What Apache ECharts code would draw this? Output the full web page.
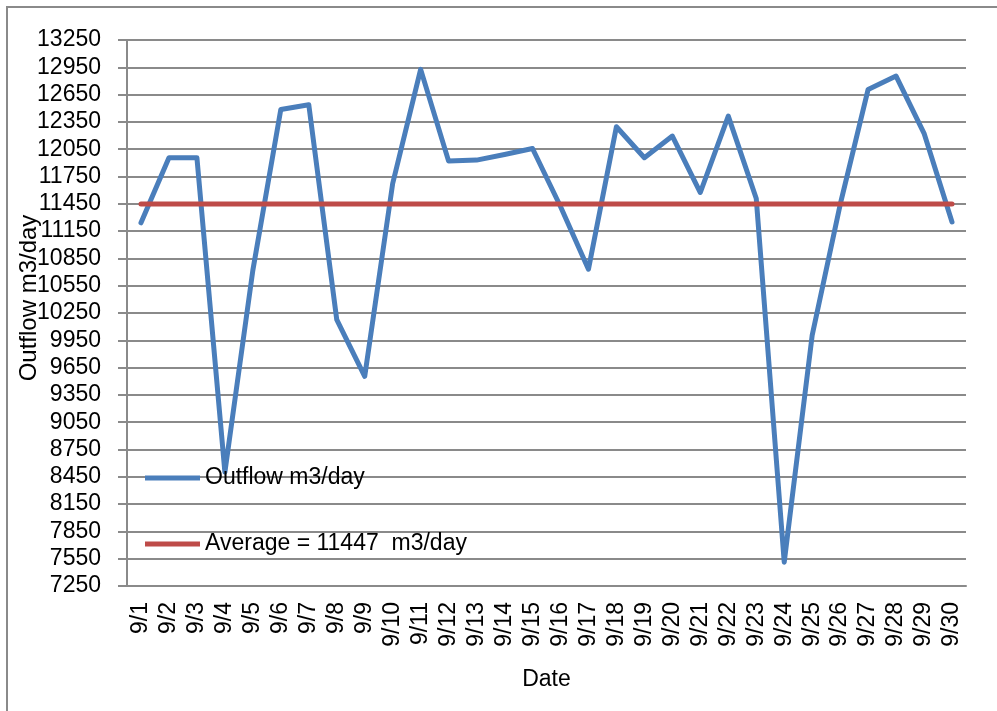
<!DOCTYPE html>
<html>
<head>
<meta charset="utf-8">
<script src="https://cdn.jsdelivr.net/npm/echarts@6/dist/echarts.min.js"></script>
<style>
  html, body { margin: 0; padding: 0; background: #fff; }
  #chart { width: 997px; height: 711px; }
</style>
</head>
<body>
<div id="chart"></div>
<script>
// daily values
const dates = ['9/1', '9/2', '9/3', '9/4', '9/5', '9/6', '9/7', '9/8', '9/9', '9/10',
  '9/11', '9/12', '9/13', '9/14', '9/15', '9/16', '9/17', '9/18', '9/19', '9/20',
  '9/21', '9/22', '9/23', '9/24', '9/25', '9/26', '9/27', '9/28', '9/29', '9/30']
const outflow = [11241, 11956, 11956, 8502, 10720, 12487, 12539, 10177, 9554, 11673,
  12927, 11919, 11930, 11992, 12058, 11420, 10731, 12297, 11956, 12194,
  11574, 12414, 11508, 7512, 10005, 11440, 12707, 12854, 12224, 11251]
const average = [11447, 11447, 11447, 11447, 11447, 11447, 11447, 11447, 11447, 11447,
  11447, 11447, 11447, 11447, 11447, 11447, 11447, 11447, 11447, 11447,
  11447, 11447, 11447, 11447, 11447, 11447, 11447, 11447, 11447, 11447]
const yMin = 7250
const yMax = 13250
const yStep = 300

const font = 'Liberation Sans'
const grey = '#8a8a8a'

const chart = echarts.init(document.getElementById('chart'), null, { renderer: 'canvas' })
chart.setOption({
  animation: false,
  backgroundColor: '#fff',
  textStyle: { fontFamily: font, color: '#000' },
  grid: { left: 127, right: 31, top: 40, bottom: 125, containLabel: false },
  legend: {
    orient: 'vertical',
    left: 140,
    top: 460,
    itemWidth: 55,
    itemHeight: 5,
    itemGap: 40,
    icon: 'rect',
    textStyle: { fontFamily: font, fontSize: 23, color: '#000', lineHeight: 26 },
    data: ['Outflow m3/day', 'Average = 11447  m3/day']
  },
  xAxis: {
    type: 'category',
    data: dates,
    boundaryGap: true,
    name: 'Date',
    nameLocation: 'middle',
    nameGap: 82,
    nameTextStyle: { fontFamily: font, fontSize: 23, color: '#000' },
    axisLine: { show: true, lineStyle: { color: grey, width: 2 } },
    axisTick: { show: false },
    axisLabel: { rotate: 90, margin: 16, interval: 0, fontFamily: font, fontSize: 23, color: '#000' },
    splitLine: { show: false }
  },
  yAxis: {
    type: 'value',
    min: yMin,
    max: yMax,
    interval: yStep,
    axisLine: { show: true, lineStyle: { color: grey, width: 2 } },
    axisTick: { show: true, inside: false, length: 9, lineStyle: { color: grey, width: 2 } },
    axisLabel: {
      margin: 26,
      fontFamily: font,
      fontSize: 23,
      color: '#000',
      formatter: v => String(v)
    },
    splitLine: { show: true, lineStyle: { color: grey, width: 2 } }
  },
  graphic: [
    {
      type: 'rect',
      silent: true,
      shape: { x: 7, y: 7, width: 1100, height: 800 },
      style: { fill: null, stroke: grey, lineWidth: 2 }
    },
    {
      type: 'text',
      x: 29,
      y: 298,
      rotation: Math.PI / 2,
      style: {
        text: 'Outflow m3/day',
        font: '24px "Liberation Sans"',
        fill: '#000',
        textAlign: 'center',
        textVerticalAlign: 'middle'
      }
    }
  ],
  series: [
    {
      name: 'Outflow m3/day',
      type: 'line',
      data: outflow,
      symbol: 'none',
      color: '#4a7ebb',
      lineStyle: { color: '#4a7ebb', width: 5, cap: 'round', join: 'round' }
    },
    {
      name: 'Average = 11447  m3/day',
      type: 'line',
      data: average,
      symbol: 'none',
      color: '#be4b48',
      lineStyle: { color: '#be4b48', width: 5, cap: 'round', join: 'round' }
    }
  ]
})
</script>
</body>
</html>
